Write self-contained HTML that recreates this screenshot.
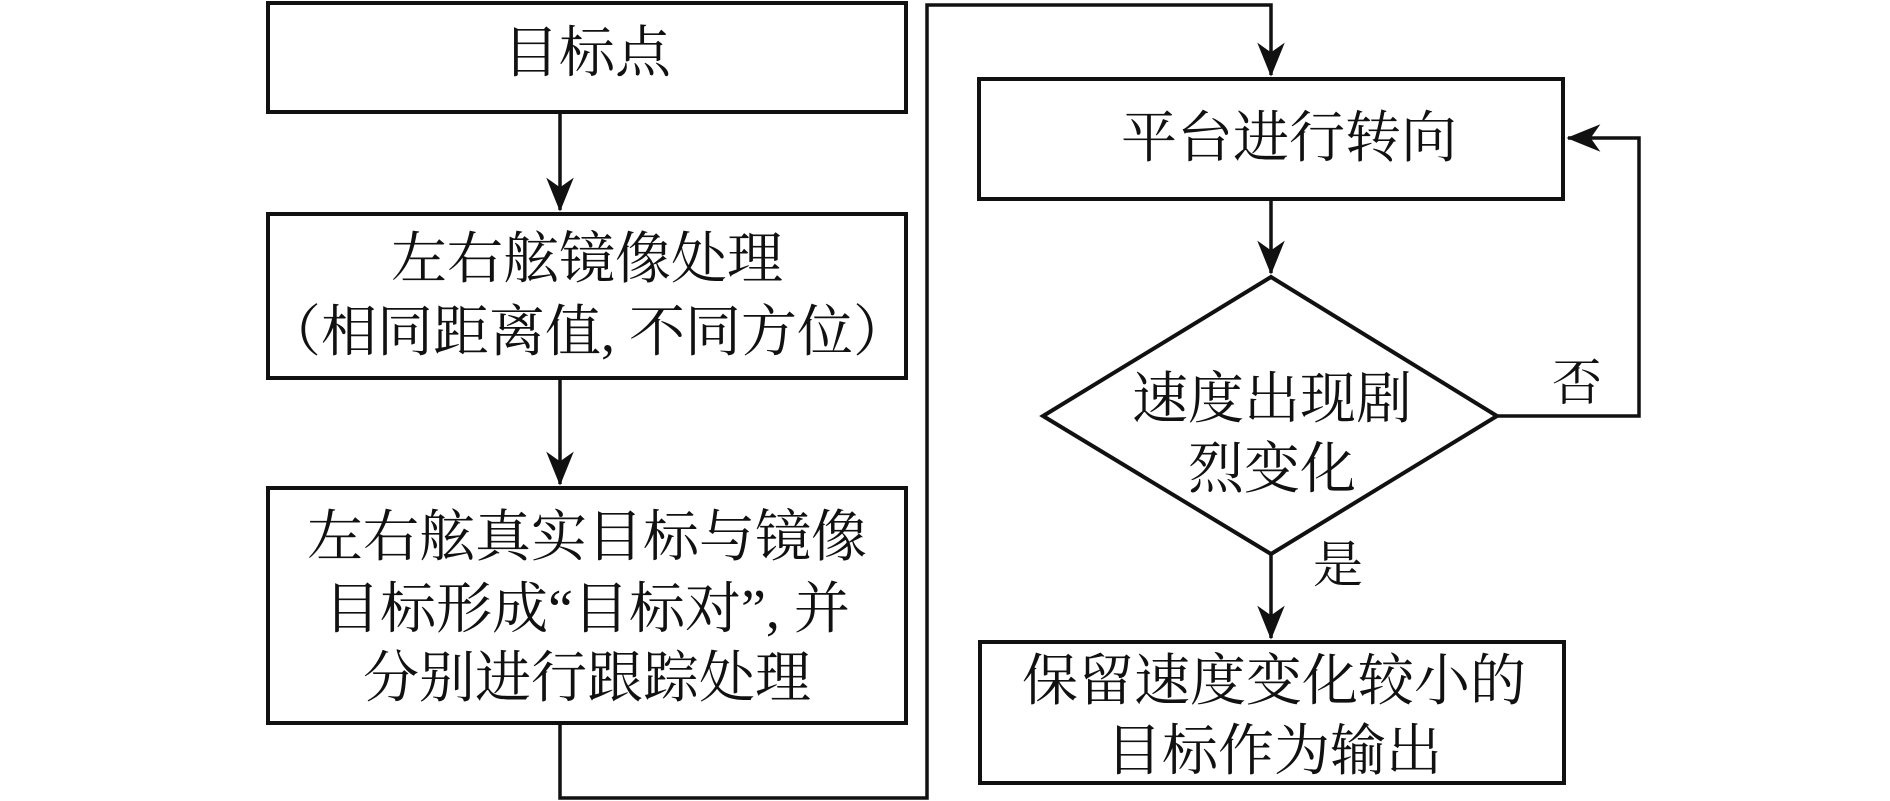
<!DOCTYPE html>
<html><head><meta charset="utf-8"><style>
html,body{margin:0;padding:0;background:#fff;}
svg{display:block;}
text{font-family:"Liberation Serif","Noto Serif CJK SC",serif;font-size:56px;fill:#111;text-anchor:middle;dominant-baseline:central;}
</style></head><body>
<svg width="1890" height="801" viewBox="0 0 1890 801" xmlns="http://www.w3.org/2000/svg">
<defs>
<marker id="ah" markerUnits="userSpaceOnUse" markerWidth="34" markerHeight="44" refX="40" refY="17" orient="auto" viewBox="0 0 42 34">
<path d="M0,0 L42,17 L0,34 L12,17 Z" fill="#111"/>
</marker>
</defs>
<g fill="none" stroke="#111" stroke-width="4">
<rect x="268" y="3" width="638" height="109"/>
<rect x="268" y="214" width="638" height="164"/>
<rect x="268" y="488" width="638" height="235"/>
<rect x="979" y="79" width="584" height="120"/>
<polygon points="1271,277 1497,416 1271,554 1043,416"/>
<rect x="980" y="642" width="584" height="141"/>
</g>
<g fill="none" stroke="#111" stroke-width="3.5">
<line x1="560" y1="112" x2="560" y2="210" marker-end="url(#ah)"/>
<line x1="560" y1="378" x2="560" y2="484" marker-end="url(#ah)"/>
<polyline points="560,723 560,798 927,798 927,5 1271,5 1271,75" marker-end="url(#ah)"/>
<line x1="1271" y1="199" x2="1271" y2="273" marker-end="url(#ah)"/>
<polyline points="1497,416 1639,416 1639,138 1568,138" marker-end="url(#ah)"/>
<line x1="1271" y1="554" x2="1271" y2="638" marker-end="url(#ah)"/>
</g>
<text x="587" y="54">目标点</text>
<text x="587" y="260">左右舷镜像处理</text>
<text x="587" y="333">（相同距离值, 不同方位）</text>
<text x="587" y="538">左右舷真实目标与镜像</text>
<text x="587" y="610">目标形成“目标对”, 并</text>
<text x="587" y="679">分别进行跟踪处理</text>
<text x="1289" y="139">平台进行转向</text>
<text x="1272" y="400">速度出现剧</text>
<text x="1272" y="470">烈变化</text>
<text x="1577" y="383" style="font-size:50px">否</text>
<text x="1338" y="565" style="font-size:50px">是</text>
<text x="1274" y="682">保留速度变化较小的</text>
<text x="1274" y="752">目标作为输出</text>
</svg>
</body></html>
